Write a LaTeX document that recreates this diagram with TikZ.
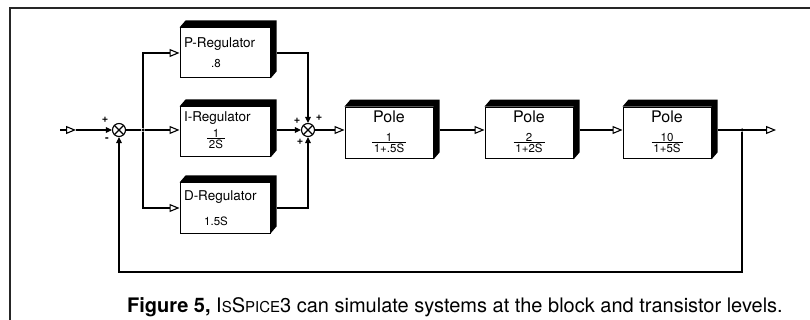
\documentclass[tikz,border=0pt]{standalone}
\usepackage{fontspec}
\setmainfont{TeX Gyre Heros}
\usetikzlibrary{arrows.meta}
\definecolor{FrameInk}{gray}{0.15}
\newcommand{\valfont}{\fontsize{11.5}{12}\selectfont}
\newcommand{\scsz}{\fontsize{15}{16}\selectfont}
\newcommand{\frc}[2]{\begin{tabular}[t]{@{\,}c@{\,}}#1\\[-3pt]\hline\rule{0pt}{10pt}#2\end{tabular}}
\newcommand{\regval}[1]{\hspace*{32pt}\makebox[0pt]{\valfont #1}}
\newcommand{\extrude}[1]{\fill (#1.north west) -- ([shift={(6pt,7pt)}]#1.north west)
  -- ([shift={(6pt,7pt)}]#1.north east) -- ([shift={(6pt,7pt)}]#1.south east)
  -- (#1.south east) -- (#1.north east) -- cycle;}
\tikzset{
  diagram/.style={x=1pt,y=-1pt,line width=1.1pt},
  block/.style={draw,line width=1pt,fill=white,minimum height=50pt},
  regblock/.style={block,text width=82pt,inner xsep=4pt,align=left,font=\fontsize{13.5}{15}\selectfont},
  poleblock/.style={block,minimum width=88pt,align=center,font=\fontsize{16}{17}\selectfont},
  sum/.style={circle,draw,minimum size=13pt,inner sep=0pt,line width=1.1pt},
  jdot/.style={circle,fill,inner sep=0pt,minimum size=3.5pt},
  feed/.style={-{Triangle[length=6pt,width=5.5pt]}},
  sig/.style={-{Triangle[open,length=10pt,width=8pt]}},
  sign/.style={font=\bfseries\fontsize{11}{11}\selectfont,inner sep=0pt},
}

\begin{document}
\begin{tikzpicture}[diagram]
  \useasboundingbox (0,0) rectangle (810,320);
  \draw[line width=2.5pt,draw=FrameInk] (10,320) -- (10,8) -- (810,8);

  % regulators
  \node[regblock] (preg) at (225,53) {P-Regulator\\[5pt]\regval{.8}};
  \node[regblock] (ireg) at (225,132) {I-Regulator\\[1pt]\regval{\frc{1}{2S}}};
  \node[regblock] (dreg) at (225,208) {D-Regulator\\[10pt]\regval{1.5S}};

  % poles
  \node[poleblock] (pole1) at (389,133) {Pole\\[2pt]{\valfont\frc{1}{1+.5S}}};
  \node[poleblock] (pole2) at (529,133) {Pole\\[2pt]{\valfont\frc{2}{1+2S}}};
  \node[poleblock] (pole3) at (667,133) {Pole\\[2pt]{\valfont\frc{10}{1+5S}}};

  \foreach \b in {preg,ireg,dreg,pole1,pole2,pole3} {\extrude{\b}}

  % summing points
  \node[sum] (s1) at (119,130) {};
  \node[sum] (s2) at (308,130) {};
  \foreach \s in {s1,s2}
    \draw[line width=1.1pt] (\s.north west) -- (\s.south east) (\s.north east) -- (\s.south west);

  \coordinate (in) at (60,130);
  \coordinate (inarr) at (76,130);
  \coordinate (out) at (776,130);
  \node[jdot] (j1) at (143,130) {};
  \node[jdot] (j2) at (742,130) {};

  \draw[sig] (in) -- (inarr);
  \draw[feed] (inarr) -- (s1);
  \draw (s1) -- (j1);
  \draw[sig] (j1) |- (preg.west);
  \draw[sig] (j1) -- (j1 -| ireg.west);
  \draw[sig] (j1) |- (dreg.west);

  \draw[feed] ([xshift=6pt]preg.east) -| (s2);
  \draw[feed] ([xshift=6pt]ireg.east |- s2) -- (s2);
  \draw[feed] ([xshift=6pt]dreg.east) -| (s2);

  \draw[sig] (s2) -- (s2 -| pole1.west);
  \draw[sig] ([xshift=6pt]pole1.east |- s2) -- (s2 -| pole2.west);
  \draw[sig] ([xshift=6pt]pole2.east |- s2) -- (s2 -| pole3.west);
  \draw[sig] ([xshift=6pt]pole3.east |- s2) -- (out);
  \draw[feed] (j2) -- ++(0,142) -| (s1);

  % signs
  \node[sign] at ([shift={(-14pt,10pt)}]s1) {+};
  \node[sign] at ([shift={(-12pt,-10pt)}]s1) {-};
  \node[sign] at ([shift={(-11pt,9pt)}]s2) {+};
  \node[sign] at ([shift={(11pt,12pt)}]s2) {+};
  \node[sign] at ([shift={(-8pt,-12pt)}]s2) {+};

  \node[anchor=base,font=\fontsize{20}{22}\selectfont] (cap) at (455,312)
    {\textbf{Figure 5,} I{\scsz S}S{\scsz PICE}3 can simulate systems at the block and transistor levels.};
\end{tikzpicture}
\end{document}
